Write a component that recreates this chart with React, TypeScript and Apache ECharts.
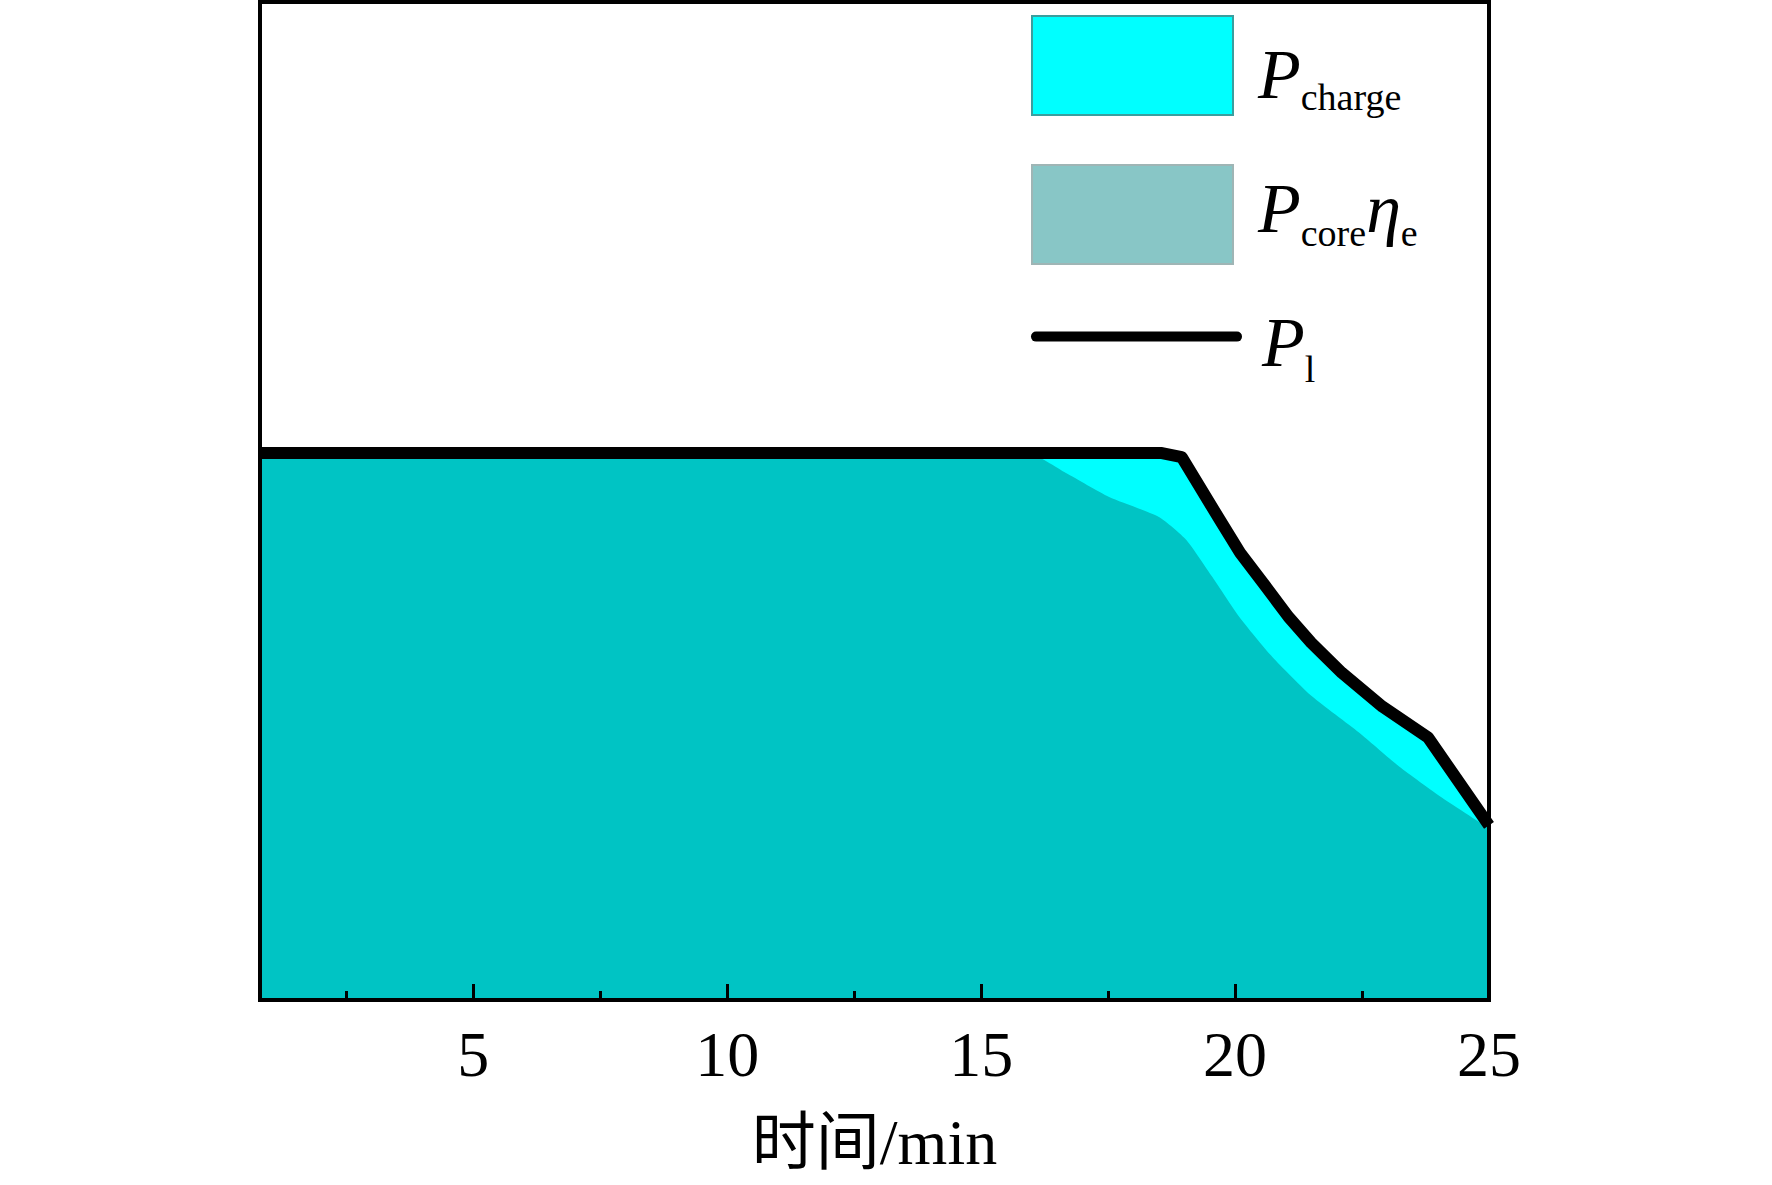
import React, { useEffect, useRef } from "react";
import * as echarts from "echarts";

// P_l (total) curve, minutes vs. relative power
const p1Time = [0.8, 18.56, 18.95, 19.7, 20.1, 20.55, 21.05, 21.5, 22.1, 22.9, 23.8, 25];
const p1Value = [54.8, 54.8, 54.4, 48.1, 44.8, 41.8, 38.4, 35.8, 32.8, 29.4, 26.3, 17.5];
// P_core * eta_e curve
const coreTime = [0.8, 15.9, 16.67, 17.52, 18.5, 19.04, 19.55, 20.08, 20.73, 21.52, 22.44, 23.23, 24.07, 25];
const coreValue = [54.8, 54.8, 52.8, 50.4, 48.4, 46.1, 42.4, 38.4, 34.4, 30.4, 26.8, 23.4, 20.3, 17.2];
const majorTicks = [5, 10, 15, 20, 25];
const minorTicks = [2.5, 7.5, 12.5, 17.5, 22.5];
const names = ["P_charge", "P_core_eta_e", "P_l"];
const xTitle = "时间/min";

const SERIF = "'Liberation Serif', 'Times New Roman', serif";

function pairs(xs: number[], ys: number[]) {
  return xs.map((x, i) => [x, ys[i]]);
}

const richBase = (pPad: number) => ({
  p: { fontSize: 70, fontStyle: "italic", fontFamily: SERIF, color: "#000", lineHeight: 70, verticalAlign: "bottom", padding: [0, 0, pPad, 0] },
  s: { fontSize: 38, fontFamily: SERIF, color: "#000", lineHeight: 38, verticalAlign: "bottom" },
});

export default function App() {
  const ref = useRef<HTMLDivElement>(null);
  useEffect(() => {
    document.body.style.margin = "0";
    const chart = echarts.init(ref.current!, undefined, { renderer: "svg" });
    const legendCommon = {
      orient: "vertical",
      left: 1031,
      padding: 0,
      itemWidth: 201,
      itemHeight: 99,
      selectedMode: false,
    };
    chart.setOption({
      animation: false,
      backgroundColor: "#fff",
      grid: {
        left: 260,
        right: 1772 - 1489,
        top: 2,
        bottom: 1185 - 1000,
        show: true,
        borderColor: "#000",
        borderWidth: 4,
        backgroundColor: "transparent",
      },
      xAxis: [
        {
          type: "value",
          min: 0.8,
          max: 25,
          position: "bottom",
          z: 10,
          axisLine: { show: true, onZero: false, lineStyle: { color: "#000", width: 4 } },
          axisTick: { show: true, inside: true, length: 16, lineStyle: { color: "#000", width: 3 }, customValues: majorTicks },
          axisLabel: {
            show: true,
            customValues: majorTicks,
            fontSize: 64,
            fontFamily: SERIF,
            color: "#000",
            margin: 22,
          },
          splitLine: { show: false },
          name: xTitle,
          nameLocation: "middle",
          nameGap: 110,
          nameTextStyle: { fontSize: 64, fontFamily: SERIF + ", 'Noto Sans CJK SC'", color: "#000" },
        },
        {
          type: "value",
          min: 0.8,
          max: 25,
          position: "top",
          offset: -998,
          z: 10,
          axisLine: { show: false },
          axisTick: { show: true, inside: false, length: 9, lineStyle: { color: "#000", width: 3 }, customValues: minorTicks },
          axisLabel: { show: false },
          splitLine: { show: false },
        },
      ],
      yAxis: [
        {
          type: "value",
          min: 0,
          max: 100,
          position: "left",
          z: 10,
          axisLine: { show: true, onZero: false, lineStyle: { color: "#000", width: 4 } },
          axisTick: { show: false },
          axisLabel: { show: false },
          splitLine: { show: false },
        },
        {
          type: "value",
          min: 0,
          max: 100,
          position: "right",
          z: 10,
          axisLine: { show: true, onZero: false, lineStyle: { color: "#000", width: 4 } },
          axisTick: { show: false },
          axisLabel: { show: false },
          splitLine: { show: false },
        },
      ],
      legend: [
        {
          ...legendCommon,
          top: 15,
          data: [
            { name: names[0], icon: "rect", itemStyle: { color: "#00FFFF", borderColor: "#3a9f9f", borderWidth: 2 } },
          ],
          formatter: () => "{p|P}{s|charge}",
          textStyle: { padding: [31, 0, 0, 20], rich: richBase(7) },
        },
        {
          ...legendCommon,
          top: 164,
          data: [
            { name: names[1], icon: "rect", itemStyle: { color: "#88C6C6", borderColor: "#9fb5b5", borderWidth: 2 } },
          ],
          formatter: () => "{p|P}{s|core}{p|η}{s|e}",
          textStyle: { padding: [5, 0, 0, 20], rich: richBase(9) },
        },
        {
          ...legendCommon,
          top: 297,
          data: [{ name: names[2], itemStyle: { color: "rgba(0,0,0,0)", opacity: 0, borderWidth: 0 } }],
          lineStyle: { color: "#000", width: 10, cap: "round" },
          formatter: () => "{p|P}{s|l}",
          textStyle: { padding: [33, 0, 0, 20], rich: richBase(11) },
        },
      ],
      series: [
        {
          name: names[0],
          type: "line",
          data: pairs(p1Time, p1Value),
          symbol: "none",
          lineStyle: { width: 0 },
          areaStyle: { color: "#00FFFF", opacity: 1 },
          itemStyle: { color: "#00FFFF" },
          z: 2,
        },
        {
          name: names[1],
          type: "line",
          data: pairs(coreTime, coreValue),
          symbol: "none",
          smooth: 0.2,
          lineStyle: { width: 0 },
          areaStyle: { color: "#00C4C4", opacity: 1 },
          itemStyle: { color: "#00C4C4" },
          z: 3,
        },
        {
          name: names[2],
          type: "line",
          data: pairs(p1Time, p1Value),
          symbol: "none",
          lineStyle: { color: "#000", width: 12, join: "round", cap: "butt" },
          itemStyle: { color: "#000" },
          z: 4,
        },
      ],
    });
    return () => chart.dispose();
  }, []);
  return <div ref={ref} style={{ position: "fixed", left: 0, top: 0, width: 1772, height: 1185 }} />;
}
